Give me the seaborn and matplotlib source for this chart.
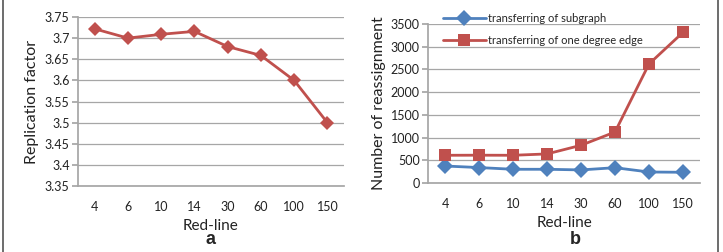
import numpy as np, pandas as pd
import seaborn as sns
import matplotlib.pyplot as plt
from matplotlib.patches import FancyBboxPatch
plt.switch_backend('agg')

# data
red_line = ['4', '6', '10', '14', '30', '60', '100', '150']
replication = [3.722, 3.700, 3.709, 3.716, 3.680, 3.659, 3.600, 3.500]
subgraph = [374, 340, 302, 302, 288, 337, 242, 236]
one_degree = [610, 612, 610, 640, 830, 1122, 2620, 3316]

RED = '#C0504D'
BLUE = '#4F81BD'
GRID = '#A6A6A6'

sns.set_theme(style='white')
plt.rcParams['font.family'] = ['Lato', 'DejaVu Sans']

fig = plt.figure(figsize=(7.23, 2.52), dpi=100)
ax1 = fig.add_axes([78/723, 1-186/252, (344-78)/723, (186-17)/252])
ax2 = fig.add_axes([428/723, 1-183/252, (700-428)/723, (183-24)/252])

dfa = pd.DataFrame({'Red-line': red_line, 'Replication factor': replication})
sns.lineplot(data=dfa, x='Red-line', y='Replication factor', ax=ax1, color=RED,
             marker='D', markersize=7, markeredgewidth=0, linewidth=2, sort=False)

dfb = pd.DataFrame({'Red-line': red_line * 2,
                    'value': subgraph + one_degree,
                    'series': ['transferring of subgraph'] * 8 + ['transferring of one degree edge'] * 8})
sns.lineplot(data=dfb, x='Red-line', y='value', hue='series', style='series',
             markers=['D', 's'], dashes=False, palette=[BLUE, RED], ax=ax2,
             markersize=8, markeredgewidth=0, linewidth=2, sort=False)

ax1.set_ylim(3.35, 3.75)
ax1.set_yticks(np.arange(3.35, 3.7501, 0.05))
ax1.set_yticklabels(['3.35', '3.4', '3.45', '3.5', '3.55', '3.6', '3.65', '3.7', '3.75'])
ax2.set_ylim(0, 3500)
ax2.set_yticks(range(0, 3501, 500))

for ax in (ax1, ax2):
    ax.set_xlim(-0.5, 7.5)
    ax.grid(axis='y', color=GRID, linewidth=0.9)
    ax.set_axisbelow(True)
    for s in ('top', 'right'):
        ax.spines[s].set_visible(False)
    ax.spines['left'].set_color(GRID)
    ax.spines['bottom'].set_color(GRID)
    ax.tick_params(axis='y', left=True, length=4, color=GRID, labelsize=9, pad=2, labelcolor='#222222')
    ax.tick_params(axis='x', bottom=False, labelsize=9, pad=5, labelcolor='#222222')
    ax.set_xlabel('Red-line', fontsize=11, labelpad=4, color='#222222')

ax1.set_ylabel('Replication factor', fontsize=11.5, labelpad=4, color='#222222')
ax2.set_ylabel('Number of reassignment', fontsize=11.5, labelpad=3, color='#222222')

leg = ax2.legend(loc='upper left', bbox_to_anchor=(0.04, 1.10), frameon=False,
                 fontsize=8, handlelength=3.8, handletextpad=0.2, labelspacing=1.0,
                 borderaxespad=0)

fig.text(210/723, 1-240/252, 'a', fontsize=13, fontweight='bold', ha='center', va='center',
         family=['Liberation Sans', 'DejaVu Sans'])
fig.text(575/723, 1-240/252, 'b', fontsize=13, fontweight='bold', ha='center', va='center',
         family=['Liberation Sans', 'DejaVu Sans'])

# rounded frame around the figure (top and bottom cut off as in the reference)
frame = FancyBboxPatch((3/723, -0.2), 715/723, 1.25, boxstyle='round,pad=0,rounding_size=0.03',
                       transform=fig.transFigure, fill=False, edgecolor='#333333', linewidth=1.0)
fig.patches.append(frame)

fig.savefig('out.png', dpi=100)
plt.close()
